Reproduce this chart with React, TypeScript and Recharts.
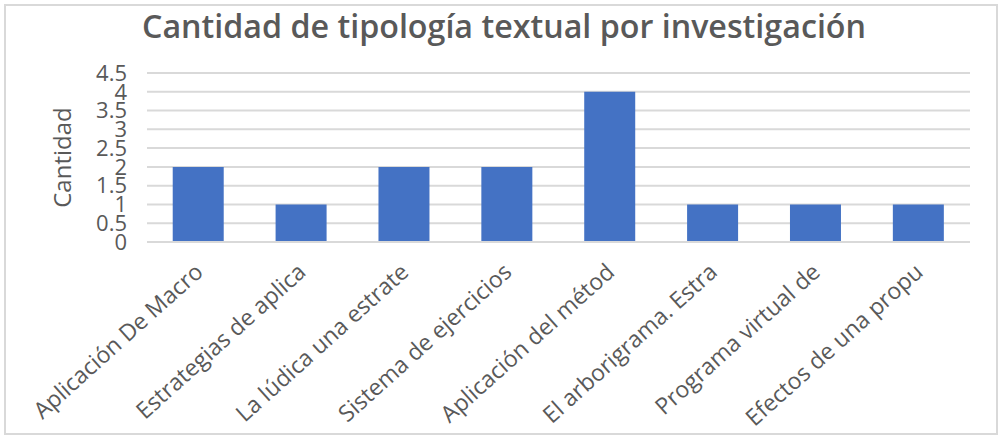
import { BarChart, Bar, XAxis, YAxis, CartesianGrid } from 'recharts';

const categories = [
  'Aplicación De Macro',
  'Estrategias de aplica',
  'La lúdica una estrate',
  'Sistema de ejercicios',
  'Aplicación del métod',
  'El arborigrama. Estra',
  'Programa virtual de',
  'Efectos de una propu',
];
const cantidad = [2, 1, 2, 2, 4, 1, 1, 1];
const yTicks = [0, 0.5, 1, 1.5, 2, 2.5, 3, 3.5, 4, 4.5];

const data = categories.map((name, i) => ({ name, cantidad: cantidad[i] }));

const font = '"Open Sans", sans-serif';
const gray = '#595959';

function CategoryTick(props: any) {
  const { x, y, payload } = props;
  return (
    <g transform={`translate(${x + 6},${y + 24})`}>
      <text transform="rotate(-42)" textAnchor="end" fontSize={23} fill={gray} fontFamily={font}>
        {payload.value}
      </text>
    </g>
  );
}

export default function App() {
  return (
    <div
      style={{
        position: 'absolute',
        left: 0,
        top: 0,
        width: 1004,
        height: 441,
        background: '#fff',
      }}
    >
      <div
        style={{
          position: 'absolute',
          left: 4,
          top: 4,
          width: 994,
          height: 431,
          border: '2px solid #d9d9d9',
          boxSizing: 'border-box',
        }}
      />
      <svg width={1004} height={60} style={{ position: 'absolute', left: 0, top: 0 }}>
        <text
          x={504}
          y={38}
          textAnchor="middle"
          fontSize={33}
          fontWeight={600}
          fill={gray}
          fontFamily={font}
          textLength={724}
          lengthAdjust="spacingAndGlyphs"
        >
          Cantidad de tipología textual por investigación
        </text>
      </svg>
      <div style={{ position: 'absolute', left: 0, top: 0 }}>
        <BarChart
          width={1004}
          height={441}
          data={data}
          margin={{ top: 73, right: 34, left: 0, bottom: 9 }}
          barCategoryGap="25%"
        >
          <CartesianGrid vertical={false} stroke="#d9d9d9" strokeWidth={2} />
          <XAxis
            dataKey="name"
            interval={0}
            height={190}
            tickLine={false}
            axisLine={{ stroke: '#d9d9d9', strokeWidth: 2 }}
            tick={<CategoryTick />}
          />
          <YAxis
            width={147}
            domain={[0, 4.5]}
            ticks={yTicks}
            interval={0}
            axisLine={false}
            tickLine={false}
            tick={{ fontSize: 22, fill: gray, fontFamily: font }}
            tickMargin={14}
            label={{
              value: 'Cantidad',
              angle: -90,
              position: 'insideLeft',
              offset: 62,
              style: { fontSize: 24, fill: gray, fontFamily: font, textAnchor: 'middle' },
            }}
          />
          <Bar dataKey="cantidad" fill="#4472C4" isAnimationActive={false} />
        </BarChart>
      </div>
    </div>
  );
}
